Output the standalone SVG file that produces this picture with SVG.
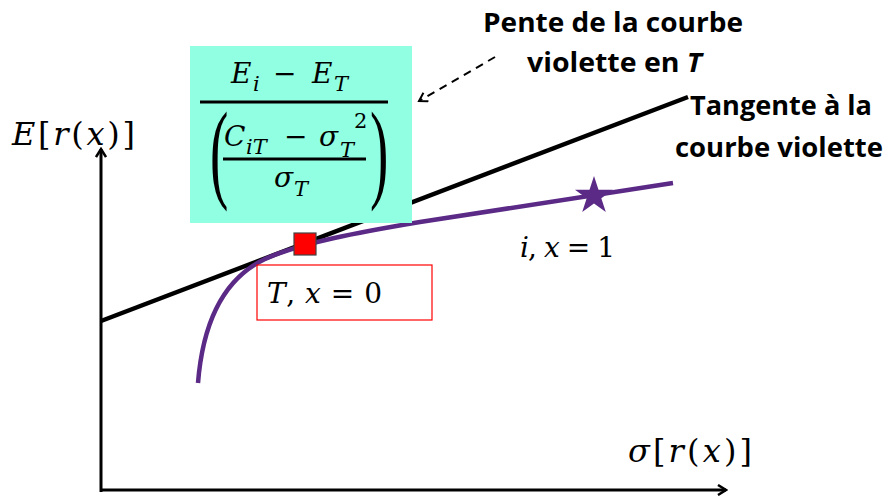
<svg xmlns="http://www.w3.org/2000/svg" width="887" height="497" viewBox="0 0 887 497">
<defs>
<style>
.m{font-family:"DejaVu Serif","Liberation Serif",serif;font-size:28px;fill:#000}
.i{font-style:italic}
.s{font-size:21px}
.p{font-family:"Liberation Serif",serif;font-size:110px;fill:#000}
.lbl{font-family:"Open Sans","Liberation Sans",sans-serif;font-weight:bold;font-size:26px;fill:#000}
.ax{stroke:#000;stroke-width:3;fill:none}
</style>
<marker id="open" viewBox="0 0 12 12" refX="10" refY="6" markerWidth="12" markerHeight="12" markerUnits="userSpaceOnUse" orient="auto">
<path d="M2,1 L10,6 L2,11" fill="none" stroke="#000" stroke-width="2.5"/>
</marker>
<marker id="dash" viewBox="0 0 12 12" refX="10" refY="6" markerWidth="12" markerHeight="12" markerUnits="userSpaceOnUse" orient="auto">
<path d="M2,1 L10,6 L2,11" fill="none" stroke="#000" stroke-width="2"/>
</marker>
</defs>
<rect width="887" height="497" fill="#fff"/>
<g id="connectors">
<line class="ax" x1="101" y1="492" x2="101" y2="149" marker-end="url(#open)"/>
<line class="ax" x1="100" y1="490" x2="726" y2="490" marker-end="url(#open)"/>
<line id="tangent" x1="101" y1="321" x2="688" y2="97" stroke="#000" stroke-width="4.5"/>
<path id="curve" d="M198,383 C203,320 225,278 265,259 C300,243 360,232 420,222 L673,183" fill="none" stroke="#5B2A86" stroke-width="4.5"/>
<line x1="495" y1="57" x2="419" y2="101" stroke="#000" stroke-width="2" stroke-dasharray="8,6" marker-end="url(#dash)"/>
</g>
<g id="formula">
<rect x="190" y="46" width="222" height="177" fill="#91FFE1"/>
<text class="m" y="83"><tspan class="i" x="231">E</tspan><tspan class="i s" x="253" y="91">i</tspan><tspan x="273" y="83">−</tspan><tspan class="i" x="312">E</tspan><tspan class="i s" x="334" y="91">T</tspan></text>
<line x1="200" y1="102" x2="388" y2="102" stroke="#000" stroke-width="3"/>
<text class="p" x="0" y="188" transform="matrix(0.5 0 0 1 210 0)">(</text>
<text class="p" x="0" y="188" transform="matrix(0.5 0 0 1 370 0)">)</text>
<text class="m" y="146"><tspan class="i" x="224">C</tspan><tspan class="i s" x="246" y="154">iT</tspan><tspan x="284" y="146">−</tspan><tspan class="i" x="319">σ</tspan></text>
<text class="m i s" x="340" y="157">T</text>
<text class="m s" x="354" y="128">2</text>
<line x1="223" y1="159" x2="366" y2="159" stroke="#000" stroke-width="3"/>
<text class="m" y="187"><tspan class="i" x="274">σ</tspan><tspan class="i s" x="294" y="196">T</tspan></text>
</g>
<g id="point-T">
<rect x="294" y="233" width="22" height="22" fill="#FF0000" stroke="#444" stroke-width="1.2"/>
</g>
<g id="label-T">
<rect x="257" y="265" width="175" height="55" fill="none" stroke="#FF0000" stroke-width="1.2"/>
<text class="m" x="267" y="303" textLength="115" lengthAdjust="spacing"><tspan class="i">T</tspan>, <tspan class="i">x</tspan> = 0</text>
</g>
<g id="point-i">
<polygon points="594,176 598.5,189.8 613,189.8 601.3,198.3 605.8,212.1 594,203.6 582.2,212.1 586.7,198.3 575,189.8 589.5,189.8" fill="#5B2A86"/>
<text class="m" x="520" y="257" textLength="95" lengthAdjust="spacing"><tspan class="i">i</tspan>, <tspan class="i">x</tspan> = 1</text>
</g>
<g id="axis-labels">
<text class="m" x="12" y="145" style="font-size:32px" textLength="123" lengthAdjust="spacing"><tspan class="i">E</tspan>[<tspan class="i">r</tspan>(<tspan class="i">x</tspan>)]</text>
<text class="m" x="628" y="462" style="font-size:32px" textLength="124" lengthAdjust="spacing"><tspan class="i">σ</tspan>[<tspan class="i">r</tspan>(<tspan class="i">x</tspan>)]</text>
</g>
<g id="annotations">
<text class="lbl" x="483" y="32" textLength="260" lengthAdjust="spacingAndGlyphs">Pente de la courbe</text>
<text class="lbl" x="527" y="72" textLength="175" lengthAdjust="spacingAndGlyphs">violette en <tspan font-style="italic">T</tspan></text>
<text class="lbl" x="690" y="115" textLength="182" lengthAdjust="spacingAndGlyphs">Tangente à la</text>
<text class="lbl" x="675" y="157" textLength="208" lengthAdjust="spacingAndGlyphs">courbe violette</text>
</g>
</svg>
